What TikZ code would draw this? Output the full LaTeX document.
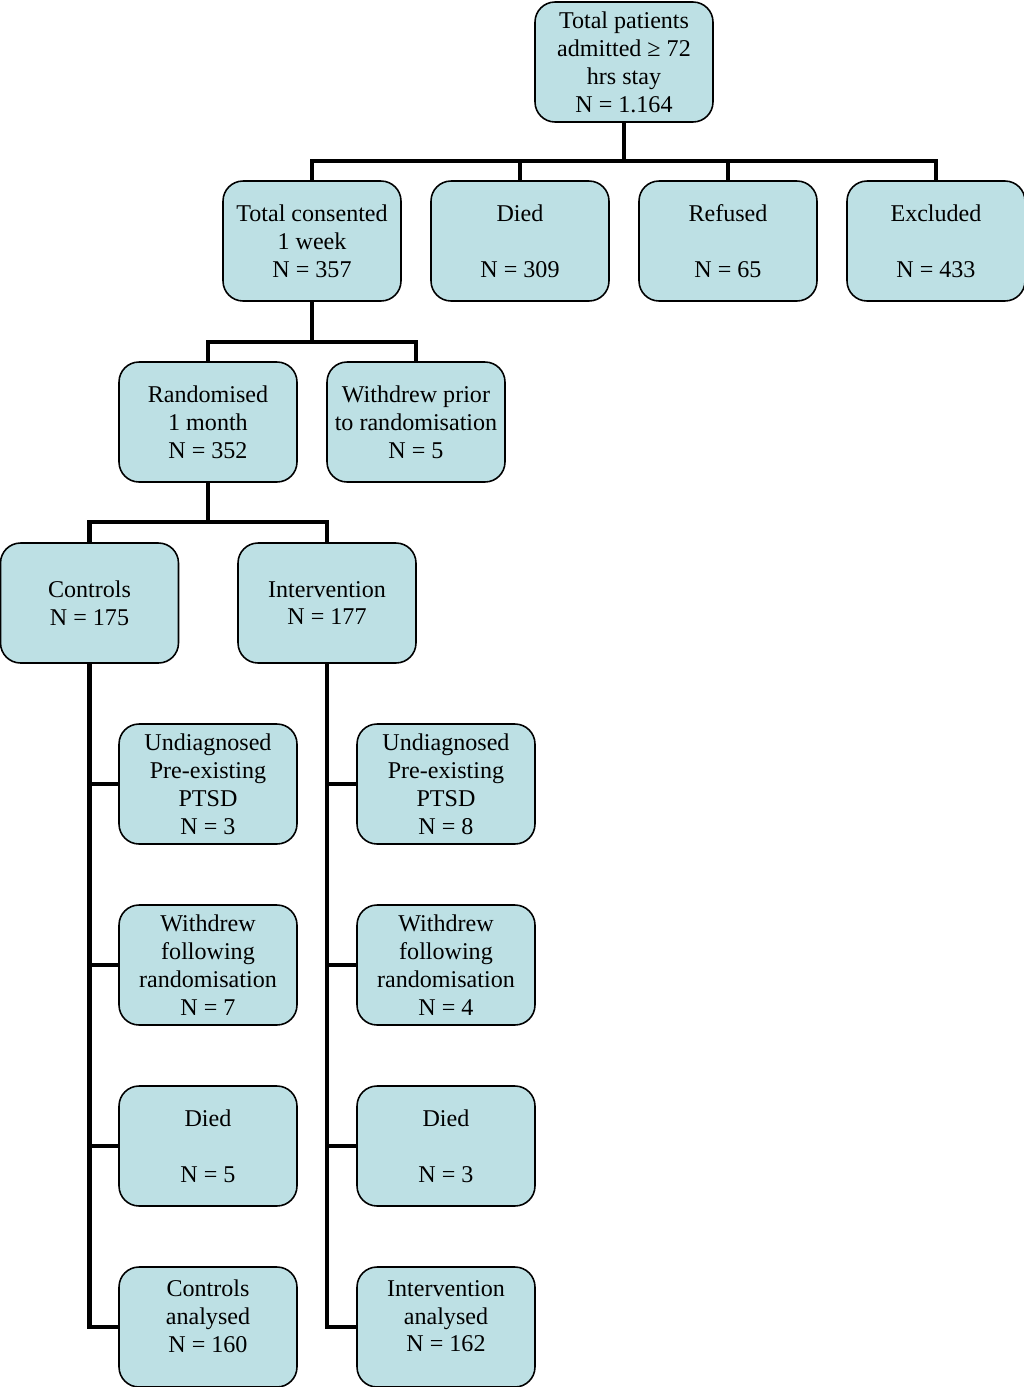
\documentclass[tikz,border=0pt]{standalone}
\usepackage{fontspec}
\setmainfont{Liberation Serif}
\usepackage{tikz}
\definecolor{boxfill}{RGB}{189,224,228}
\tikzset{
	box/.style={draw=black, line width=0.9pt, fill=boxfill, rounded corners=0.4cm,
		minimum width=3.56cm, minimum height=2.4cm, align=center, inner sep=1pt,
		font=\fontsize{13.7}{15.9}\selectfont},
	conn/.style={line width=2.4pt, line cap=rect}
}

\begin{document}
\begin{tikzpicture}[x=0.02cm, y=-0.02cm]
			%%%%% START %%%%%
			\useasboundingbox (0, 0) rectangle (1024, 1387);
			
			\node[box] (total) at (624, 62) {Total patients\\admitted ≥ 72\\hrs stay\\N = 1.164};
			
			\node[box] (cons) at (312, 241) {Total consented\\1 week\\N = 357};
			\node[box] (died) at (520, 241) {Died\\\mbox{}\\N = 309};
			\node[box] (refu) at (728, 241) {Refused\\\mbox{}\\N = 65};
			\node[box] (excl) at (936, 241) {Excluded\\\mbox{}\\N = 433};
			
			\node[box] (rand) at (208, 422) {Randomised\\1 month\\N = 352};
			\node[box] (wprior) at (416, 422) {Withdrew prior\\to randomisation\\N = 5};
			
			\node[box] (ctrl) at (89.5, 603) {Controls\\N = 175};
			\node[box] (intv) at (327, 603) {Intervention\\N = 177};
			
			\node[box] (cundiag) at (208, 784) {Undiagnosed\\Pre-existing\\PTSD\\N = 3};
			\node[box] (cwithd) at (208, 965) {Withdrew\\following\\randomisation\\N = 7};
			\node[box] (cdied) at (208, 1146) {Died\\\mbox{}\\N = 5};
			\node[box] (cana) at (208, 1327) {Controls\\analysed\\N = 160\\[-3.4pt]\mbox{}};
			
			\node[box] (iundiag) at (446, 784) {Undiagnosed\\Pre-existing\\PTSD\\N = 8};
			\node[box] (iwithd) at (446, 965) {Withdrew\\following\\randomisation\\N = 4};
			\node[box] (idied) at (446, 1146) {Died\\\mbox{}\\N = 3};
			\node[box] (iana) at (446, 1327) {Intervention\\analysed\\N = 162\\[-3.4pt]\mbox{}};
			
			% first split
			\coordinate (j1) at (624, 161);
			\draw[conn] (total.south) -- (j1);
			\draw[conn] (cons.north) |- (j1) -| (excl.north);
			\draw[conn] (died.north) -- (died.north |- j1);
			\draw[conn] (refu.north) -- (refu.north |- j1);
			
			% consented
			\coordinate (j2) at (312, 342);
			\draw[conn] (cons.south) -- (j2);
			\draw[conn] (rand.north) |- (j2) -| (wprior.north);
			
			% randomised
			\coordinate (j3) at (208, 522);
			\draw[conn] (rand.south) -- (j3);
			\draw[conn] (ctrl.north) |- (j3) -| (intv.north);
			
			% arms
			\draw[conn] (ctrl.south) |- (cana.west);
			\draw[conn] (ctrl.south |- cundiag.west) -- (cundiag.west);
			\draw[conn] (ctrl.south |- cwithd.west) -- (cwithd.west);
			\draw[conn] (ctrl.south |- cdied.west) -- (cdied.west);
			
			\draw[conn] (intv.south) |- (iana.west);
			\draw[conn] (intv.south |- iundiag.west) -- (iundiag.west);
			\draw[conn] (intv.south |- iwithd.west) -- (iwithd.west);
			\draw[conn] (intv.south |- idied.west) -- (idied.west);
			
			%%%%% END %%%%%
		\end{tikzpicture}
\end{document}
